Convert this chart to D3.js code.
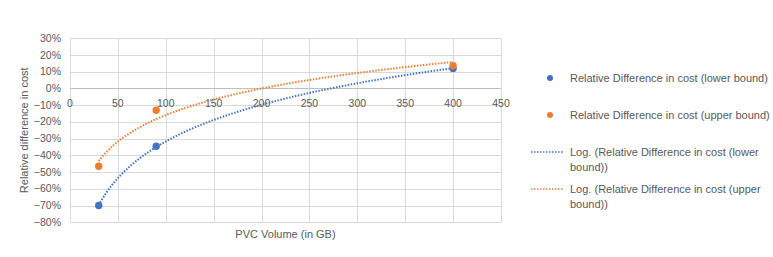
<!DOCTYPE html>
<html>
<head>
<meta charset="utf-8">
<script src="https://cdn.jsdelivr.net/npm/d3@7"></script>
<style>
  body { margin: 0; background: #fff; }
  text { font-family: "Liberation Sans", Arial, sans-serif; fill: #595959; }
</style>
</head>
<body>
<div id="chart"></div>
<script>
// data
var volumes = [30, 90, 400];
var lowerBound = [-0.70, -0.345, 0.12];
var upperBound = [-0.465, -0.13, 0.136];
var xTicks = [0, 50, 100, 150, 200, 250, 300, 350, 400, 450];
var yTicks = [0.3, 0.2, 0.1, 0, -0.1, -0.2, -0.3, -0.4, -0.5, -0.6, -0.7, -0.8];
var legendLabels = [
    ["Relative Difference in cost (lower bound)"],
    ["Relative Difference in cost (upper bound)"],
    ["Log. (Relative Difference in cost (lower", "bound))"],
    ["Log. (Relative Difference in cost (upper", "bound))"]
];

var width = 773, height = 257;
var blue = "#4472C4", orange = "#ED7D31";

var svg = d3.select("#chart").append("svg")
    .attr("width", width)
    .attr("height", height);

var x = d3.scaleLinear().domain([0, 450]).range([70, 501]);
var y = d3.scaleLinear().domain([-0.8, 0.3]).range([222.3, 38.3]);

// gridlines
var grid = svg.append("g");
grid.selectAll(".h").data(yTicks).enter().append("line")
    .attr("x1", x(0)).attr("x2", x(450))
    .attr("y1", function(d) { return Math.round(y(d)) + 0.5; })
    .attr("y2", function(d) { return Math.round(y(d)) + 0.5; })
    .attr("stroke", "#D9D9D9");
grid.selectAll(".v").data(xTicks).enter().append("line")
    .attr("y1", y(0.3)).attr("y2", y(-0.8))
    .attr("x1", function(d) { return Math.round(x(d)) + 0.5; })
    .attr("x2", function(d) { return Math.round(x(d)) + 0.5; })
    .attr("stroke", "#D9D9D9");

// zero axis line
svg.append("line")
    .attr("x1", x(0)).attr("x2", x(450))
    .attr("y1", Math.round(y(0)) + 0.5).attr("y2", Math.round(y(0)) + 0.5)
    .attr("stroke", "#BFBFBF");

// tick labels
svg.append("g").selectAll("text").data(xTicks).enter().append("text")
    .attr("x", function(d) { return x(d); })
    .attr("y", y(0) + 19)
    .attr("text-anchor", "middle")
    .style("font-size", "10.5px")
    .text(function(d) { return d; });

svg.append("g").selectAll("text").data(yTicks).enter().append("text")
    .attr("x", 61)
    .attr("y", function(d) { return y(d) + 3.5; })
    .attr("text-anchor", "end")
    .style("font-size", "10.5px")
    .text(d3.format(".0%"));

// axis titles
svg.append("text")
    .attr("transform", "translate(28," + y(-0.25) + ") rotate(-90)")
    .attr("text-anchor", "middle")
    .style("font-size", "11px")
    .text("Relative difference in cost");

svg.append("text")
    .attr("x", x(225))
    .attr("y", 238)
    .attr("text-anchor", "middle")
    .style("font-size", "11px")
    .text("PVC Volume (in GB)");

// logarithmic trendline: least squares fit of value on ln(volume)
function logFit(xs, ys) {
    var lx = xs.map(Math.log);
    var mx = d3.mean(lx), my = d3.mean(ys);
    var sxy = d3.sum(lx, function(v, i) { return (v - mx) * (ys[i] - my); });
    var sxx = d3.sum(lx, function(v) { return (v - mx) * (v - mx); });
    var a = sxy / sxx, b = my - a * mx;
    return function(v) { return a * Math.log(v) + b; };
}

var series = [
    { values: lowerBound, color: blue },
    { values: upperBound, color: orange }
];

var line = d3.line()
    .x(function(d) { return x(d[0]); })
    .y(function(d) { return y(d[1]); });

series.forEach(function(s) {
    var f = logFit(volumes, s.values);
    var xs = d3.range(volumes[0], volumes[volumes.length - 1] + 0.01, 2);
    svg.append("path")
        .datum(xs.map(function(v) { return [v, f(v)]; }))
        .attr("d", line)
        .attr("fill", "none")
        .attr("stroke", s.color)
        .attr("stroke-width", 2)
        .attr("stroke-dasharray", "1.5,1.5");
});

series.forEach(function(s) {
    svg.append("g").selectAll("circle")
        .data(volumes)
        .enter().append("circle")
        .attr("cx", function(d) { return x(d); })
        .attr("cy", function(d, i) { return y(s.values[i]); })
        .attr("r", 3.7)
        .attr("fill", s.color);
});

// legend
var legend = svg.append("g");
var legendY = [78, 115, 152, 189];
var legendColors = [blue, orange, blue, orange];
legendLabels.forEach(function(lines, i) {
    var g = legend.append("g").attr("transform", "translate(0," + legendY[i] + ")");
    if (i < 2) {
        g.append("circle").attr("cx", 550).attr("cy", 0).attr("r", 3).attr("fill", legendColors[i]);
    } else {
        g.append("line").attr("x1", 531).attr("x2", 564).attr("y1", 0).attr("y2", 0)
            .attr("stroke", legendColors[i]).attr("stroke-width", 1.5)
            .attr("stroke-dasharray", "1.5,1.5");
    }
    g.selectAll("text").data(lines).enter().append("text")
        .attr("x", 570)
        .attr("y", function(d, j) { return 4 + j * 15; })
        .style("font-size", "11px")
        .text(function(d) { return d; });
});
</script>
</body>
</html>
